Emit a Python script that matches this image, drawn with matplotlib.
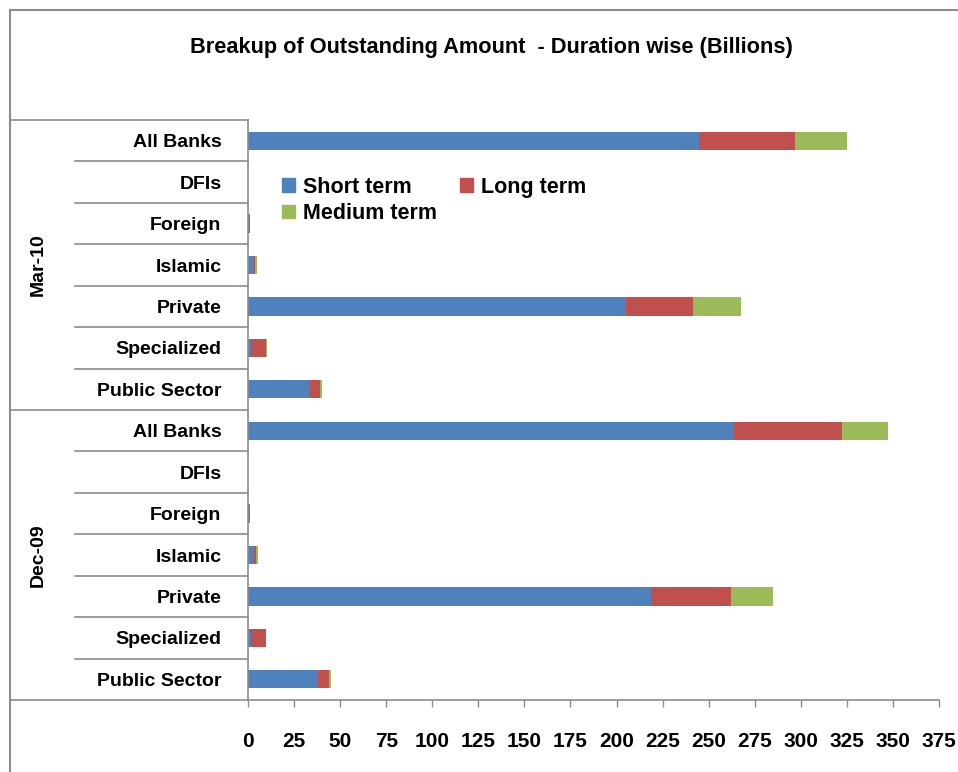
import matplotlib
matplotlib.use("Agg")
import matplotlib.pyplot as plt
from matplotlib.lines import Line2D
from matplotlib.patches import Patch

plt.rcParams['font.family'] = ['Liberation Sans', 'DejaVu Sans']
plt.rcParams['font.weight'] = 'bold'

# amounts in billions, by bank type
groups = ["Mar-10", "Dec-09"]
banks = ["All Banks", "DFIs", "Foreign", "Islamic", "Private", "Specialized", "Public Sector"]

short_mar10 = [245, 0, 1.0, 3.0, 205, 1.5, 33.5]
long_mar10 = [52, 0, 0, 1.0, 36.5, 8.5, 5.5]
medium_mar10 = [28, 0, 0, 0.8, 26, 0.3, 1.0]

short_dec09 = [264, 0, 1.0, 3.5, 218.5, 1.5, 38]
long_dec09 = [58.5, 0, 0, 1.0, 43.5, 8, 6]
medium_dec09 = [25, 0, 0, 0.7, 23, 0.3, 1.0]

xticks = list(range(0, 400, 25))

short = short_mar10 + short_dec09
long_ = long_mar10 + long_dec09
medium = medium_mar10 + medium_dec09
labels = banks + banks
ypos = list(range(len(labels)))

c_short, c_long, c_med = '#4F81BD', '#C0504D', '#9BBB59'
grey = '#8C8C8C'

W, H = 958, 772
fig = plt.figure(figsize=(W / 100, H / 100), dpi=100)
ax = fig.add_axes([248 / W, 1 - 700 / H, (939 - 248) / W, (700 - 120) / H])

left2 = [s + l for s, l in zip(short, long_)]
ax.barh(ypos, short, height=0.44, color=c_short, linewidth=0)
ax.barh(ypos, long_, left=short, height=0.44, color=c_long, linewidth=0)
ax.barh(ypos, medium, left=left2, height=0.44, color=c_med, linewidth=0)

ax.set_ylim(len(labels) - 0.5, -0.5)
ax.set_xlim(0, 375)
ax.set_xticks(xticks)
ax.set_xticklabels([str(t) for t in xticks], fontsize=15, fontweight='bold')
ax.tick_params(axis='x', direction='out', length=5, width=1, color=grey, pad=18)
ax.set_yticks(ypos)
ax.set_yticklabels(labels, fontsize=14, fontweight='bold')
ax.tick_params(axis='y', length=0, pad=19)
for s in ['top', 'right']:
    ax.spines[s].set_visible(False)
for s in ['left', 'bottom']:
    ax.spines[s].set_color(grey)
    ax.spines[s].set_linewidth(1.2)

# category table lines left of the plot
tr = ax.get_yaxis_transform()
x_inner = (75 - 248) / (939 - 248)
x_outer = (10 - 248) / (939 - 248)
for i in range(len(labels) + 1):
    y = i - 0.5
    x0 = x_outer if i % len(banks) == 0 else x_inner
    ax.add_line(Line2D([x0, 0], [y, y], transform=tr, color=grey, lw=1.2, clip_on=False))

for g, name in enumerate(groups):
    yc = g * len(banks) + (len(banks) - 1) / 2
    ax.text((38 - 248) / (939 - 248), yc, name, transform=tr, rotation=90,
            ha='center', va='center', fontsize=14, fontweight='bold')

# chart area border (top and left edges)
fig.add_artist(Line2D([10 / W, 1], [1 - 10 / H, 1 - 10 / H], transform=fig.transFigure, color=grey, lw=1.5))
fig.add_artist(Line2D([10 / W, 10 / W], [0, 1 - 10 / H], transform=fig.transFigure, color=grey, lw=1.5))

fig.text(491 / W, 1 - 47 / H, "Breakup of Outstanding Amount  - Duration wise (Billions)",
         ha='center', va='center', fontsize=15.7, fontweight='bold')

handles = [Patch(color=c_short), Patch(color=c_med), Patch(color=c_long)]
names = ["Short term", "Medium term", "Long term"]
fig.legend(handles, names, ncol=2, frameon=False, loc='upper left',
           bbox_to_anchor=(271 / W, 1 - 166 / H), prop={'size': 15.5, 'weight': 'bold'},
           handlelength=0.6, handleheight=0.6, handletextpad=0.4,
           columnspacing=1.05, labelspacing=0.25, borderpad=0)

fig.savefig("out.png", dpi=100)
